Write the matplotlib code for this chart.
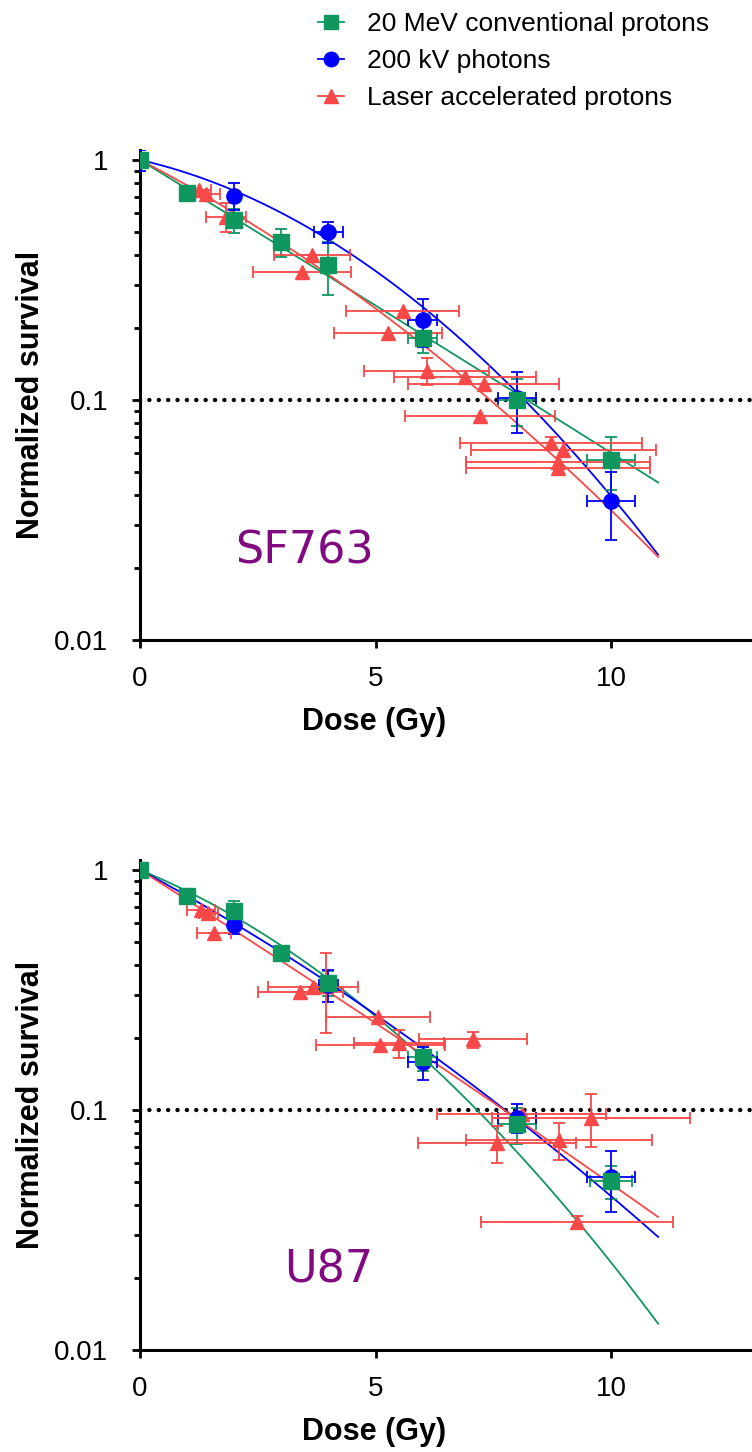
import numpy as np
import matplotlib
matplotlib.use('Agg')
import matplotlib.pyplot as plt
from matplotlib.ticker import LogLocator, FixedLocator, NullFormatter

# ---- data: SF763 (top panel) ----
sf_green_dose = [0, 1, 2, 3, 4, 6, 8, 10]
sf_green_surv = [1.0, 0.73, 0.56, 0.455, 0.365, 0.181, 0.100, 0.056]
sf_green_yerr = [0.02, 0, 0.065, 0.06, 0.09, 0.024, 0.022, 0.014]
sf_green_xerr = [0, 0, 0, 0, 0.1, 0.3, 0.4, 0.5]

sf_blue_dose = [0, 2, 4, 6, 8, 10]
sf_blue_surv = [1.0, 0.71, 0.50, 0.215, 0.102, 0.038]
sf_blue_yerr = [0.1, 0.09, 0.05, 0.048, 0.029, 0.012]
sf_blue_xerr = [0, 0, 0.3, 0.3, 0.4, 0.5]

sf_red_dose = [0, 1.25, 1.4, 1.83, 3.65, 3.44, 5.58, 5.26, 6.09, 6.9, 7.3, 7.22, 8.73, 8.99, 8.87, 8.87]
sf_red_surv = [1.0, 0.75, 0.72, 0.58, 0.40, 0.34, 0.235, 0.19, 0.132, 0.125, 0.117, 0.086, 0.066, 0.062, 0.055, 0.052]
sf_red_xerr = [0, 0.25, 0.3, 0.42, 0.8, 1.05, 1.2, 1.15, 1.33, 1.5, 1.6, 1.6, 1.93, 1.97, 1.95, 1.95]
sf_red_yerr = [0.02, 0, 0, 0.08, 0, 0, 0, 0, 0.017, 0, 0, 0, 0.004, 0, 0, 0.003]

# linear-quadratic fit parameters (log10 units): S = 10^-(a*D + b*D^2)
sf_fit_green = (0.1205, 0.00015)
sf_fit_blue = (0.045, 0.0095)
sf_fit_red = (0.1016, 0.00443)

# ---- data: U87 (bottom panel) ----
u_green_dose = [0, 1, 2, 3, 4, 6, 8, 10]
u_green_surv = [1.0, 0.78, 0.675, 0.451, 0.338, 0.166, 0.087, 0.0506]
u_green_yerr = [0.02, 0, 0.07, 0, 0.04, 0.02, 0.015, 0.008]
u_green_xerr = [0, 0, 0, 0, 0.15, 0.3, 0.4, 0.45]

u_blue_dose = [0, 2, 4, 6, 8, 10]
u_blue_surv = [1.0, 0.59, 0.332, 0.158, 0.093, 0.0525]
u_blue_yerr = [0.02, 0.05, 0.05, 0.025, 0.013, 0.015]
u_blue_xerr = [0, 0, 0.2, 0.3, 0.4, 0.5]

u_red_dose = [0, 1.3, 1.45, 1.57, 3.4, 3.67, 3.95, 5.05, 5.1, 5.5, 7.07, 7.58, 8.1, 8.9, 9.58, 9.28]
u_red_surv = [1.0, 0.68, 0.66, 0.546, 0.31, 0.326, 0.33, 0.244, 0.187, 0.19, 0.197, 0.073, 0.096, 0.075, 0.093, 0.034]
u_red_xerr = [0, 0.3, 0.2, 0.36, 0.9, 0.96, 0, 1.1, 1.37, 0.95, 1.15, 1.68, 1.8, 1.97, 2.1, 2.04]
u_red_yerr = [0.02, 0, 0, 0, 0, 0, 0.12, 0, 0, 0.025, 0.015, 0.013, 0, 0.013, 0.023, 0.002]

u_fit_green = (0.0801, 0.00834)
u_fit_blue = (0.1052, 0.00307)
u_fit_red = (0.1244, 0.00064)

labels = ['20 MeV conventional protons', '200 kV photons', 'Laser accelerated protons']
green = '#109760'
blue = '#0000ff'
red = '#f84848'
purple = '#800a80'

plt.rcParams['font.family'] = ['Liberation Sans', 'DejaVu Sans']

fig = plt.figure(figsize=(7.52, 14.52), dpi=100)
left = 140 / 752
width = 1 - left
ax1 = fig.add_axes([left, 1 - 640 / 1452, width, 490 / 1452])
ax2 = fig.add_axes([left, 1 - 1350 / 1452, width, 490 / 1452])

dfit = np.linspace(0, 11, 200)


def fit_curve(p):
    a, b = p
    return 10 ** (-(a * dfit + b * dfit ** 2))


def draw(ax, g, b, r, fits, name, name_xy):
    ax.plot([0, 20], [0.1, 0.1], color='black', lw=3.2, dashes=(0.01, 2.1),
            dash_capstyle='round', zorder=1)
    for fp, c in zip(fits, [green, blue, red]):
        ax.plot(dfit, fit_curve(fp), color=c, lw=1.3, zorder=2)
    series = [(g, green, 's', 11, labels[0]),
              (b, blue, 'o', 11, labels[1]),
              (r, red, '^', 10.5, labels[2])]
    for (dx, sy, ye, xe), c, m, ms, lab in series:
        ax.errorbar(dx, sy, yerr=ye, xerr=xe, fmt='none', ecolor=c, elinewidth=1.3,
                    capsize=4.5, capthick=1.3, zorder=3)
    h = []
    # triangles first, then circles, squares on top
    for (dx, sy, ye, xe), c, m, ms, lab in series[::-1]:
        ax.plot(dx, sy, ls='none', marker=m, ms=ms, color=c, zorder=4)
        h.append(ax.plot([], [], color=c, marker=m, ms=ms * 0.95, lw=1.3, label=lab)[0])
    ax.set_yscale('log')
    ax.set_ylim(0.01, 1.1)
    ax.set_xlim(0, (752 - 140) / 47.1)
    ax.yaxis.set_major_locator(FixedLocator([0.01, 0.1, 1]))
    ax.yaxis.set_minor_locator(LogLocator(base=10, subs=np.arange(2, 10)))
    ax.yaxis.set_minor_formatter(NullFormatter())
    ax.set_yticklabels(['0.01', '0.1', '1'])
    ax.set_xticks([0, 5, 10])
    ax.set_xticklabels(['0', '5', '10'])
    for s in ['top', 'right']:
        ax.spines[s].set_visible(False)
    for s in ['left', 'bottom']:
        ax.spines[s].set_linewidth(2.2)
    ax.tick_params(which='major', direction='out', length=6, width=2, labelsize=20)
    ax.tick_params(which='minor', direction='out', length=4, width=2)
    ax.tick_params(axis='y', which='major', pad=17)
    ax.tick_params(axis='x', which='major', pad=13)
    ax.set_xlabel('Dose (Gy)', fontsize=22, fontweight='bold')
    ax.xaxis.set_label_coords((374 - 140) / 612, -82 / 490)
    ax.xaxis.label.set_va('center')
    ax.set_ylabel('Normalized survival', fontsize=22, fontweight='bold')
    ax.yaxis.set_label_coords((31 - 140) / 612, 0.5)
    ax.yaxis.label.set_va('center')
    ax.text(name_xy[0], name_xy[1], name, color=purple, fontsize=32,
            family='DejaVu Sans', ha='center', va='center')
    return h[::-1]


handles = draw(ax1, (sf_green_dose, sf_green_surv, sf_green_yerr, sf_green_xerr),
               (sf_blue_dose, sf_blue_surv, sf_blue_yerr, sf_blue_xerr),
               (sf_red_dose, sf_red_surv, sf_red_yerr, sf_red_xerr),
               [sf_fit_green, sf_fit_blue, sf_fit_red], 'SF763', (3.5, 0.0235))
draw(ax2, (u_green_dose, u_green_surv, u_green_yerr, u_green_xerr),
     (u_blue_dose, u_blue_surv, u_blue_yerr, u_blue_xerr),
     (u_red_dose, u_red_surv, u_red_yerr, u_red_xerr),
     [u_fit_green, u_fit_blue, u_fit_red], 'U87', (4.0, 0.0215))

fig.legend(handles=handles, loc='upper left', bbox_to_anchor=(318 / 752, 1 - 12 / 1452),
           frameon=False, fontsize=19, handlelength=1.0, handletextpad=0.85,
           labelspacing=0.5, borderpad=0, borderaxespad=0)

fig.savefig('out.png', dpi=100)
